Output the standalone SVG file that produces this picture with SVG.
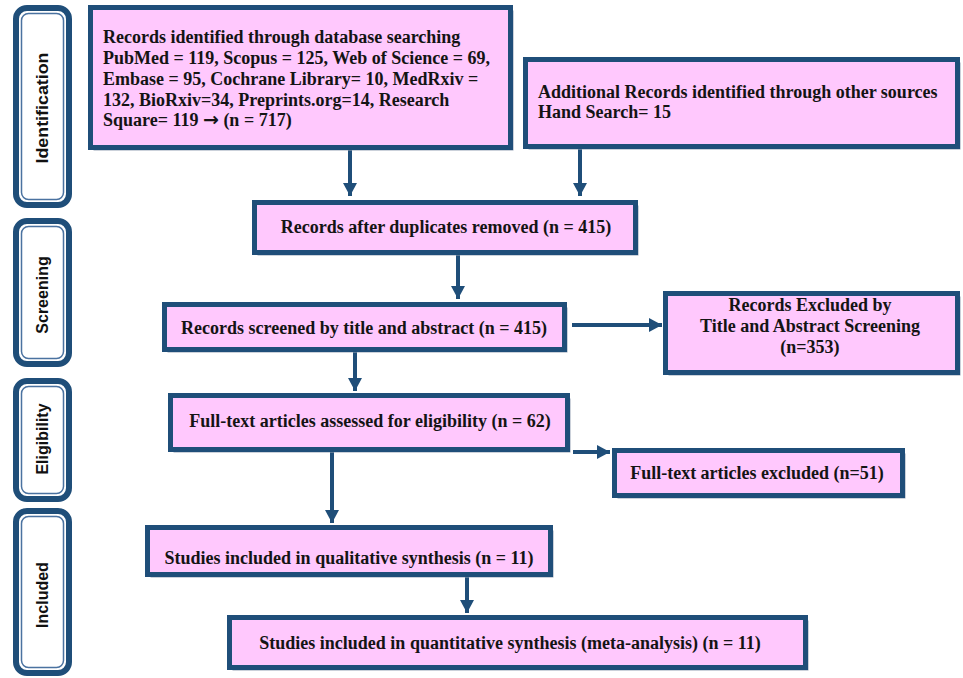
<svg xmlns="http://www.w3.org/2000/svg" width="963" height="678" viewBox="0 0 963 678">
<defs>
<style>
.box{fill:#ffc8fd;stroke:#1f4e79;stroke-width:5}
.shd{fill:#97a3b6}
.t{font-family:"Liberation Serif","Times New Roman",serif;font-weight:bold;font-size:18px;fill:#141414}
.c{text-anchor:middle}
.ar{font-family:"DejaVu Sans",sans-serif;font-weight:bold;font-size:19px}
.side{fill:#fff;stroke:#1f4e79;stroke-width:6}
.sidein{fill:none;stroke:#4a72a0;stroke-width:1.5}
.st{font-family:"Liberation Sans",Arial,sans-serif;font-weight:bold;font-size:16px;fill:#111;text-anchor:middle}
.ln{stroke:#1f4e79;stroke-width:4;fill:none}
</style>
<marker id="ah" markerUnits="userSpaceOnUse" markerWidth="14" markerHeight="14" viewBox="0 0 14 14" refX="13" refY="7" orient="auto">
<path d="M0,0 L13,7 L0,14 z" fill="#1f4e79"/>
</marker>
</defs>
<rect width="963" height="678" fill="#fff"/>

<g id="stage-identification">
<rect class="side" x="16" y="8" width="53" height="197" rx="11"/>
<rect class="sidein" x="21.5" y="13.5" width="42" height="186" rx="7"/>
<text class="st" transform="translate(48,108) rotate(-90)" textLength="111" lengthAdjust="spacingAndGlyphs">Identification</text>
</g>
<g id="stage-screening">
<rect class="side" x="16" y="221" width="53" height="143" rx="11"/>
<rect class="sidein" x="21.5" y="226.5" width="42" height="132" rx="7"/>
<text class="st" transform="translate(48,295) rotate(-90)">Screening</text>
</g>
<g id="stage-eligibility">
<rect class="side" x="16" y="381" width="53" height="118" rx="11"/>
<rect class="sidein" x="21.5" y="386.5" width="42" height="107" rx="7"/>
<text class="st" transform="translate(48,439) rotate(-90)">Eligibility</text>
</g>
<g id="stage-included">
<rect class="side" x="16" y="511" width="53" height="162" rx="11"/>
<rect class="sidein" x="21.5" y="516.5" width="42" height="151" rx="7"/>
<text class="st" transform="translate(48,595) rotate(-90)">Included</text>
</g>

<g id="connectors">
<line class="ln" x1="350" y1="150" x2="350" y2="196" marker-end="url(#ah)"/>
<line class="ln" x1="580" y1="149" x2="580" y2="196" marker-end="url(#ah)"/>
<line class="ln" x1="458" y1="255" x2="458" y2="299" marker-end="url(#ah)"/>
<line class="ln" x1="355" y1="352" x2="355" y2="391" marker-end="url(#ah)"/>
<line class="ln" x1="572" y1="325" x2="662" y2="325" marker-end="url(#ah)"/>
<line class="ln" x1="573" y1="452" x2="610" y2="452" marker-end="url(#ah)"/>
<line class="ln" x1="332" y1="452" x2="332" y2="523" marker-end="url(#ah)"/>
<line class="ln" x1="467" y1="577" x2="467" y2="613" marker-end="url(#ah)"/>
</g>

<g id="records-db">
<rect class="shd" x="93.5" y="10.5" width="420" height="140"/>
<rect class="box" x="90.5" y="7.5" width="420" height="140"/>
<text class="t" x="103" y="43">Records identified through database searching</text>
<text class="t" x="103" y="64">PubMed = 119, Scopus = 125, Web of Science = 69,</text>
<text class="t" x="103" y="85">Embase = 95, Cochrane Library= 10, MedRxiv =</text>
<text class="t" x="103" y="106">132, BioRxiv=34, Preprints.org=14, Research</text>
<text class="t" x="103" y="126">Square= 119 <tspan class="ar">→</tspan> (n = 717)</text>
</g>
<g id="records-other">
<rect class="shd" x="528.5" y="62.5" width="432" height="87"/>
<rect class="box" x="525.5" y="59.5" width="432" height="87"/>
<text class="t" x="538" y="98">Additional Records identified through other sources</text>
<text class="t" x="538" y="118">Hand Search= 15</text>
</g>
<g id="after-duplicates">
<rect class="shd" x="257.5" y="205.5" width="381" height="50"/>
<rect class="box" x="254.5" y="202.5" width="381" height="50"/>
<text class="t c" x="446" y="233">Records after duplicates removed (n = 415)</text>
</g>
<g id="screened">
<rect class="shd" x="167.5" y="307.5" width="400" height="45"/>
<rect class="box" x="164.5" y="304.5" width="400" height="45"/>
<text class="t c" x="364" y="334">Records screened by title and abstract (n = 415)</text>
</g>
<g id="excluded-screening">
<rect class="shd" x="668.5" y="296.5" width="292" height="79"/>
<rect class="box" x="665.5" y="293.5" width="292" height="79"/>
<text class="t c" x="810" y="311">Records Excluded by</text>
<text class="t c" x="810" y="332">Title and Abstract Screening</text>
<text class="t c" x="810" y="353">(n=353)</text>
</g>
<g id="fulltext-assessed">
<rect class="shd" x="173.5" y="398.5" width="397" height="54"/>
<rect class="box" x="170.5" y="395.5" width="397" height="54"/>
<text class="t c" x="370" y="427">Full-text articles assessed for eligibility (n = 62)</text>
</g>
<g id="fulltext-excluded">
<rect class="shd" x="617.5" y="453.5" width="288" height="45"/>
<rect class="box" x="614.5" y="450.5" width="288" height="45"/>
<text class="t c" x="757" y="479">Full-text articles excluded (n=51)</text>
</g>
<g id="qualitative">
<rect class="shd" x="150.5" y="530.5" width="403" height="47"/>
<rect class="box" x="147.5" y="527.5" width="403" height="47"/>
<text class="t c" x="349" y="564">Studies included in qualitative synthesis (n = 11)</text>
</g>
<g id="quantitative">
<rect class="shd" x="232.5" y="620.5" width="576" height="50"/>
<rect class="box" x="229.5" y="617.5" width="576" height="50"/>
<text class="t c" x="510" y="649">Studies included in quantitative synthesis (meta-analysis) (n = 11)</text>
</g>
</svg>
